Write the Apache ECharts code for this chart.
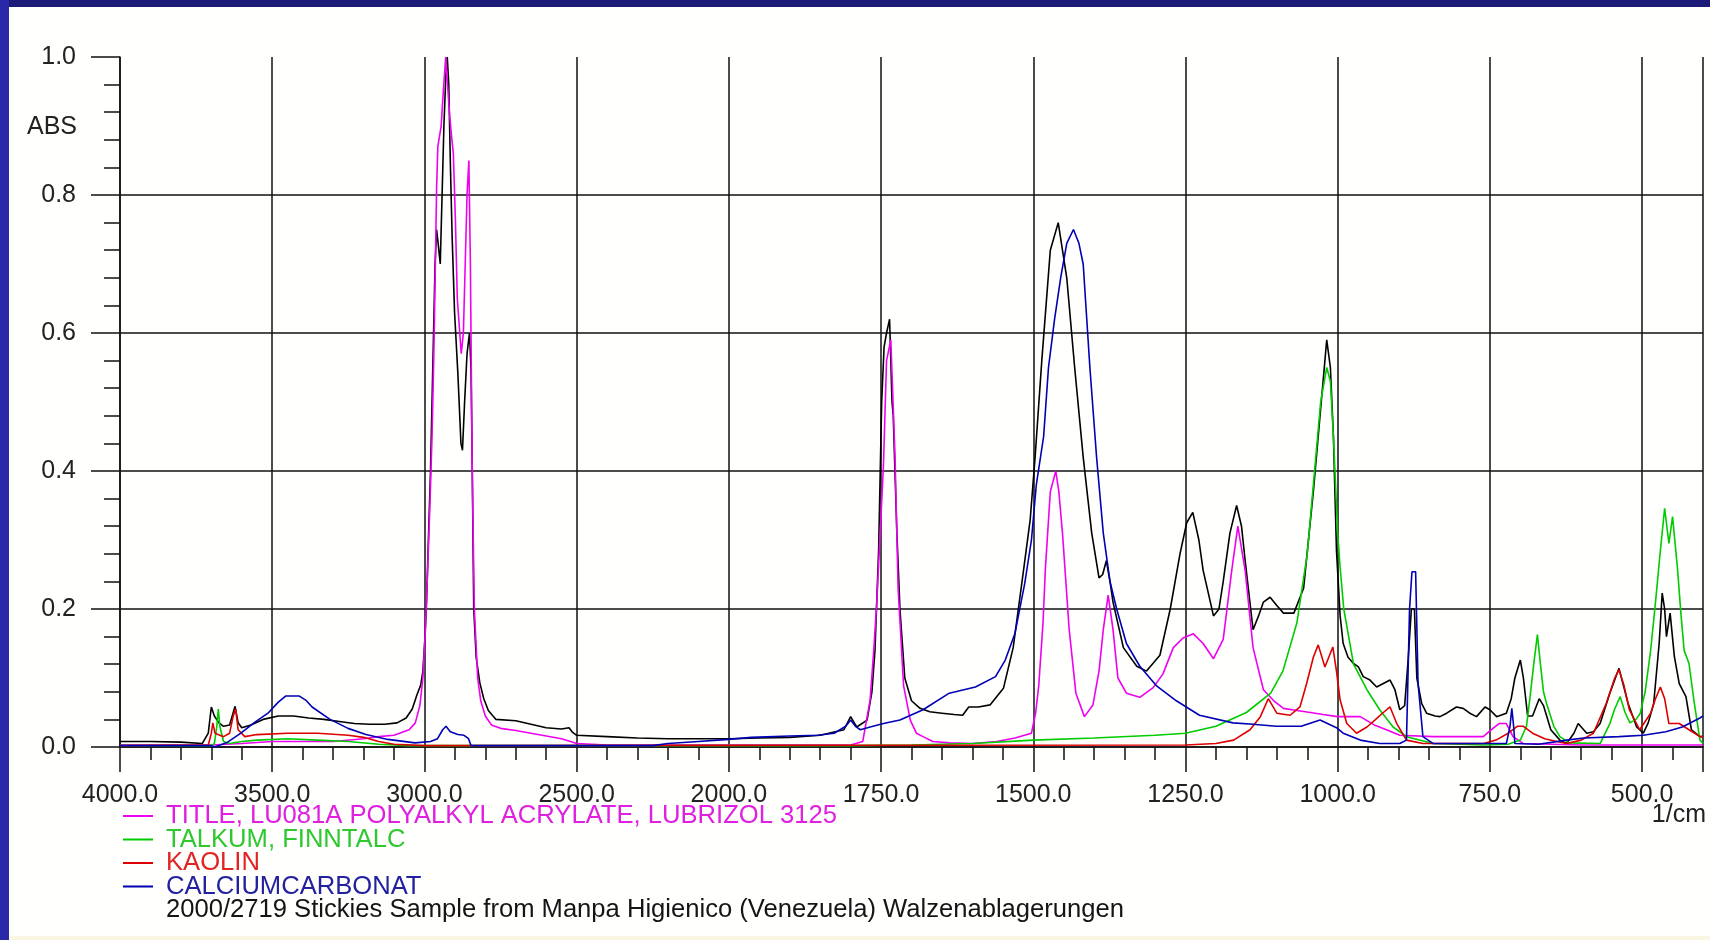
<!DOCTYPE html>
<html><head><meta charset="utf-8">
<script src="https://cdn.jsdelivr.net/npm/echarts@6/dist/echarts.min.js"></script>
<style>
html,body{margin:0;padding:0;background:#fff;}
#wrap{position:relative;width:1710px;height:940px;overflow:hidden;background:#fffffd;}
#chart{position:absolute;left:0;top:0;width:1710px;height:940px;}
#bt{position:absolute;left:0;top:0;width:1710px;height:7px;background:#1c1c78;z-index:2}
#bl{position:absolute;left:0;top:0;width:9px;height:940px;background:#2828a8;z-index:2}
#bb{position:absolute;left:0;bottom:0;width:1710px;height:4px;background:#fbf6e2;z-index:1}
</style></head>
<body><div id="wrap"><div id="chart"></div><div id="bt"></div><div id="bl"></div><div id="bb"></div></div>
<script>
// ---- data: [wavenumber (1/cm), absorbance] ----
const sampleName = '2000/2719 Stickies Sample from Manpa Higienico (Venezuela) Walzenablagerungen';
const acrylName = 'TITLE, LU081A POLYALKYL ACRYLATE, LUBRIZOL 3125';
const talcName = 'TALKUM, FINNTALC';
const kaolinName = 'KAOLIN';
const carbName = 'CALCIUMCARBONAT';

const xTickLabels = ['4000.0','3500.0','3000.0','2500.0','2000.0','1750.0','1500.0','1250.0','1000.0','750.0','500.0'];
const yTickLabels = ['0.0','0.2','0.4','0.6','0.8','1.0'];

const sampleData = [[4000,0.008],[3900,0.008],[3800,0.007],[3730,0.005],[3710,0.02],[3700,0.058],[3690,0.045],[3675,0.035],[3660,0.03],[3640,0.032],[3628,0.05],[3622,0.059],[3612,0.035],[3600,0.028],[3570,0.032],[3530,0.04],[3480,0.045],[3430,0.045],[3380,0.042],[3330,0.04],[3280,0.037],[3230,0.034],[3180,0.033],[3130,0.033],[3090,0.035],[3060,0.042],[3040,0.055],[3025,0.075],[3012,0.09],[3005,0.11],[2998,0.16],[2993,0.21],[2987,0.3],[2980,0.4],[2975,0.5],[2970,0.6],[2965,0.7],[2960,0.75],[2955,0.73],[2948,0.7],[2942,0.8],[2936,0.9],[2930,0.97],[2925,1.0],[2920,0.96],[2915,0.85],[2909,0.74],[2901,0.63],[2890,0.54],[2880,0.44],[2875,0.43],[2868,0.5],[2860,0.57],[2852,0.6],[2847,0.55],[2843,0.41],[2838,0.2],[2830,0.13],[2818,0.093],[2805,0.07],[2790,0.053],[2765,0.04],[2700,0.038],[2650,0.033],[2600,0.028],[2550,0.026],[2525,0.028],[2515,0.022],[2500,0.017],[2400,0.015],[2300,0.013],[2200,0.012],[2100,0.012],[2000,0.012],[1950,0.013],[1900,0.014],[1850,0.017],[1811,0.025],[1800,0.044],[1790,0.029],[1773,0.039],[1765,0.08],[1760,0.14],[1754,0.285],[1749,0.5],[1745,0.58],[1741,0.6],[1736,0.62],[1732,0.5],[1730,0.48],[1724,0.31],[1719,0.2],[1711,0.1],[1700,0.067],[1686,0.056],[1670,0.051],[1650,0.049],[1630,0.047],[1616,0.046],[1606,0.058],[1590,0.058],[1571,0.061],[1549,0.085],[1533,0.144],[1516,0.256],[1505,0.33],[1497,0.42],[1486,0.56],[1472,0.72],[1459,0.76],[1445,0.68],[1432,0.55],[1418,0.42],[1404,0.31],[1392,0.245],[1386,0.25],[1380,0.27],[1374,0.24],[1369,0.21],[1352,0.144],[1330,0.117],[1314,0.11],[1292,0.133],[1275,0.2],[1259,0.28],[1248,0.325],[1238,0.34],[1228,0.3],[1221,0.256],[1204,0.19],[1195,0.2],[1188,0.24],[1177,0.31],[1166,0.35],[1158,0.32],[1152,0.27],[1139,0.17],[1130,0.19],[1122,0.21],[1111,0.217],[1100,0.205],[1089,0.194],[1072,0.194],[1056,0.23],[1040,0.37],[1029,0.48],[1018,0.59],[1012,0.55],[1007,0.45],[1002,0.285],[996,0.19],[991,0.15],[983,0.13],[974,0.121],[966,0.116],[958,0.102],[947,0.097],[936,0.087],[925,0.092],[914,0.097],[906,0.083],[898,0.054],[890,0.06],[884,0.13],[879,0.2],[874,0.2],[870,0.1],[862,0.063],[854,0.049],[840,0.045],[832,0.044],[821,0.049],[805,0.058],[794,0.056],[783,0.049],[772,0.044],[758,0.058],[750,0.054],[739,0.044],[723,0.049],[715,0.07],[709,0.1],[700,0.126],[695,0.1],[688,0.045],[680,0.045],[669,0.07],[662,0.06],[650,0.025],[635,0.01],[624,0.005],[612,0.02],[605,0.034],[591,0.02],[580,0.022],[569,0.034],[553,0.078],[538,0.114],[523,0.063],[509,0.029],[498,0.02],[490,0.035],[481,0.063],[472,0.15],[467,0.223],[463,0.2],[460,0.16],[454,0.194],[447,0.131],[439,0.092],[428,0.073],[419,0.025],[405,0.015],[400,0.015]];

const acrylData = [[4000,0.003],[3700,0.003],[3600,0.005],[3500,0.008],[3300,0.008],[3200,0.012],[3150,0.015],[3100,0.017],[3050,0.025],[3030,0.035],[3015,0.06],[3005,0.1],[2998,0.16],[2990,0.25],[2982,0.35],[2975,0.45],[2969,0.57],[2964,0.7],[2960,0.81],[2956,0.87],[2950,0.87],[2945,0.9],[2938,0.95],[2930,1.0],[2925,1.0],[2918,0.92],[2912,0.89],[2905,0.86],[2898,0.76],[2892,0.65],[2879,0.57],[2872,0.6],[2866,0.7],[2860,0.8],[2854,0.85],[2849,0.7],[2843,0.4],[2836,0.2],[2825,0.1],[2815,0.067],[2800,0.045],[2780,0.032],[2750,0.027],[2700,0.024],[2650,0.02],[2600,0.016],[2550,0.012],[2520,0.008],[2500,0.005],[2400,0.003],[2000,0.003],[1800,0.003],[1780,0.008],[1768,0.068],[1762,0.14],[1757,0.21],[1752,0.3],[1746,0.41],[1741,0.56],[1734,0.59],[1727,0.42],[1722,0.23],[1713,0.089],[1702,0.039],[1692,0.02],[1681,0.015],[1665,0.008],[1637,0.006],[1600,0.005],[1560,0.008],[1530,0.013],[1503,0.02],[1496,0.05],[1491,0.089],[1484,0.18],[1480,0.26],[1472,0.37],[1463,0.4],[1458,0.37],[1452,0.31],[1441,0.17],[1430,0.078],[1416,0.044],[1402,0.061],[1392,0.11],[1385,0.17],[1377,0.22],[1369,0.17],[1361,0.1],[1347,0.078],[1325,0.072],[1303,0.086],[1287,0.106],[1270,0.144],[1254,0.158],[1237,0.164],[1221,0.15],[1204,0.128],[1188,0.156],[1174,0.256],[1164,0.32],[1152,0.256],[1139,0.144],[1122,0.083],[1105,0.067],[1089,0.056],[1067,0.053],[1045,0.05],[1024,0.047],[1000,0.044],[963,0.044],[940,0.032],[920,0.025],[898,0.017],[843,0.015],[761,0.015],[745,0.027],[735,0.034],[723,0.034],[712,0.015],[695,0.005],[600,0.003],[400,0.003]];

const talcData = [[4000,0.002],[3700,0.002],[3690,0.005],[3682,0.03],[3677,0.055],[3672,0.03],[3660,0.008],[3640,0.005],[3600,0.008],[3550,0.01],[3450,0.012],[3350,0.01],[3250,0.008],[3150,0.004],[3050,0.002],[2000,0.002],[1800,0.002],[1700,0.003],[1600,0.005],[1500,0.01],[1400,0.013],[1300,0.017],[1250,0.02],[1200,0.03],[1150,0.05],[1110,0.078],[1090,0.11],[1067,0.18],[1050,0.28],[1036,0.42],[1028,0.5],[1018,0.55],[1012,0.53],[1007,0.45],[1000,0.31],[996,0.26],[990,0.2],[974,0.12],[952,0.083],[931,0.054],[909,0.029],[887,0.015],[843,0.005],[760,0.003],[720,0.004],[700,0.01],[690,0.03],[684,0.073],[678,0.12],[672,0.163],[667,0.12],[662,0.08],[657,0.063],[645,0.03],[635,0.015],[620,0.006],[569,0.005],[553,0.034],[545,0.055],[536,0.073],[528,0.05],[520,0.035],[510,0.04],[503,0.049],[495,0.08],[486,0.14],[478,0.21],[470,0.285],[463,0.346],[456,0.295],[450,0.334],[442,0.26],[436,0.19],[431,0.14],[423,0.121],[415,0.068],[405,0.01],[400,0.005]];

const kaolinData = [[4000,0.002],[3710,0.003],[3700,0.02],[3695,0.035],[3688,0.02],[3660,0.015],[3640,0.02],[3628,0.045],[3620,0.055],[3612,0.025],[3590,0.015],[3550,0.018],[3450,0.02],[3350,0.02],[3250,0.017],[3200,0.014],[3150,0.008],[3100,0.004],[3000,0.002],[1250,0.003],[1200,0.005],[1171,0.01],[1144,0.025],[1127,0.044],[1114,0.07],[1100,0.049],[1078,0.046],[1062,0.058],[1051,0.092],[1040,0.13],[1032,0.148],[1021,0.116],[1008,0.145],[1002,0.11],[996,0.068],[985,0.034],[969,0.02],[952,0.029],[939,0.039],[925,0.05],[914,0.058],[903,0.034],[887,0.01],[860,0.005],[760,0.005],[740,0.01],[720,0.02],[705,0.03],[695,0.03],[680,0.02],[660,0.012],[640,0.008],[624,0.005],[600,0.01],[580,0.02],[559,0.063],[545,0.1],[538,0.112],[530,0.09],[521,0.054],[504,0.025],[486,0.049],[478,0.07],[470,0.087],[463,0.07],[456,0.034],[439,0.034],[423,0.025],[405,0.015],[400,0.015]];

const carbData = [[4000,0.002],[3700,0.002],[3690,0.0],[3650,0.006],[3603,0.02],[3560,0.035],[3514,0.049],[3480,0.065],[3455,0.074],[3412,0.074],[3390,0.068],[3369,0.058],[3310,0.04],[3251,0.027],[3192,0.018],[3120,0.011],[3031,0.006],[2980,0.008],[2957,0.012],[2940,0.025],[2929,0.03],[2915,0.022],[2890,0.018],[2870,0.017],[2855,0.012],[2847,0.002],[2700,0.002],[2500,0.002],[2250,0.002],[2200,0.005],[2100,0.008],[2000,0.011],[1963,0.014],[1900,0.016],[1854,0.017],[1827,0.02],[1808,0.03],[1800,0.039],[1792,0.03],[1784,0.025],[1768,0.029],[1746,0.034],[1719,0.039],[1681,0.054],[1638,0.078],[1595,0.087],[1562,0.102],[1546,0.126],[1530,0.165],[1514,0.237],[1503,0.3],[1495,0.38],[1483,0.45],[1475,0.55],[1465,0.62],[1455,0.68],[1445,0.73],[1434,0.75],[1425,0.73],[1418,0.7],[1407,0.55],[1396,0.42],[1385,0.31],[1374,0.24],[1363,0.2],[1347,0.15],[1325,0.117],[1298,0.089],[1265,0.067],[1227,0.046],[1172,0.035],[1139,0.033],[1101,0.03],[1060,0.03],[1029,0.039],[1002,0.028],[991,0.02],[963,0.01],[931,0.005],[898,0.005],[887,0.01],[882,0.2],[878,0.254],[872,0.254],[868,0.092],[860,0.015],[843,0.005],[723,0.005],[717,0.03],[714,0.056],[711,0.03],[709,0.005],[670,0.004],[624,0.01],[596,0.013],[538,0.015],[498,0.017],[461,0.022],[434,0.029],[405,0.042],[400,0.045]];

// ---- piecewise wavenumber scale (half scale above 2000 1/cm) ----
const toU = w => (w >= 2000 ? (4000 - w) / 500 : 4 + (2000 - w) / 250);

const FONT = 'Liberation Sans';
const chart = echarts.init(document.getElementById('chart'), null, {renderer: 'canvas'});

function mk(name, data, color, z) {
  return {
    name, type: 'line', z,
    data: data.map(p => [toU(p[0]), p[1]]),
    showSymbol: false, symbol: 'none', color,
    lineStyle: {width: 1.6, color},
    clip: true, animation: false, silent: true
  };
}

const axisBlack = {color: '#111', width: 1.5};

chart.setOption({
  animation: false,
  backgroundColor: 'transparent',
  grid: {left: 120, top: 57, width: 1583, height: 690, containLabel: false},
  xAxis: [{
    type: 'value', min: 0, max: 10.4, interval: 1, position: 'bottom',
    axisLine: {show: true, onZero: false, lineStyle: axisBlack},
    axisTick: {show: true, length: 25, lineStyle: axisBlack},
    splitLine: {show: true, lineStyle: axisBlack},
    axisLabel: {
      margin: 36, fontFamily: FONT, fontSize: 25, color: '#222',
      showMinLabel: true, showMaxLabel: true, hideOverlap: false,
      formatter: v => {
        const r = Math.round(v);
        return Math.abs(v - r) < 1e-6 && r < xTickLabels.length ? xTickLabels[r] : '';
      }
    }
  }, {
    type: 'value', min: 0, max: 10.4, interval: 0.2, position: 'bottom',
    axisLine: {show: false}, axisLabel: {show: false}, splitLine: {show: false},
    axisTick: {show: true, length: 13, lineStyle: axisBlack}
  }],
  yAxis: [{
    type: 'value', min: 0, max: 1, interval: 0.2,
    axisLine: {show: true, lineStyle: axisBlack},
    axisTick: {show: true, length: 29, lineStyle: axisBlack},
    minorTick: {show: true, splitNumber: 5, length: 16, lineStyle: axisBlack},
    splitLine: {show: true, showMaxLine: false, lineStyle: axisBlack},
    axisLabel: {
      margin: 44, fontFamily: FONT, fontSize: 25, color: '#222',
      formatter: v => yTickLabels[Math.round(v * 5)]
    }
  }],
  legend: {
    orient: 'vertical', left: 123, top: 803, padding: 0, itemGap: -2.5,
    itemWidth: 30, itemHeight: 2, icon: 'rect', selectedMode: false,
    textStyle: {fontFamily: FONT, fontSize: 25.6, padding: [0, 0, 0, 8]},
    data: [
      {name: acrylName, textStyle: {color: '#e020e0'}},
      {name: talcName, textStyle: {color: '#30c830'}},
      {name: kaolinName, textStyle: {color: '#e02424'}},
      {name: carbName, textStyle: {color: '#2222a0'}},
      {name: sampleName, icon: 'none', textStyle: {color: '#151515'}}
    ]
  },
  graphic: [
    {type: 'text', left: 27, top: 115, style: {text: 'ABS', font: '25px "Liberation Sans"', fill: '#222'}},
    {type: 'text', right: 4, top: 803, style: {text: '1/cm', font: '25px "Liberation Sans"', fill: '#222'}}
  ],
  series: [
    mk(sampleName, sampleData, '#000000', 2),
    mk(acrylName, acrylData, '#f000f0', 3),
    mk(talcName, talcData, '#00cc00', 3),
    mk(kaolinName, kaolinData, '#dd0000', 3),
    mk(carbName, carbData, '#0000b4', 4)
  ]
});
</script>
</body></html>
